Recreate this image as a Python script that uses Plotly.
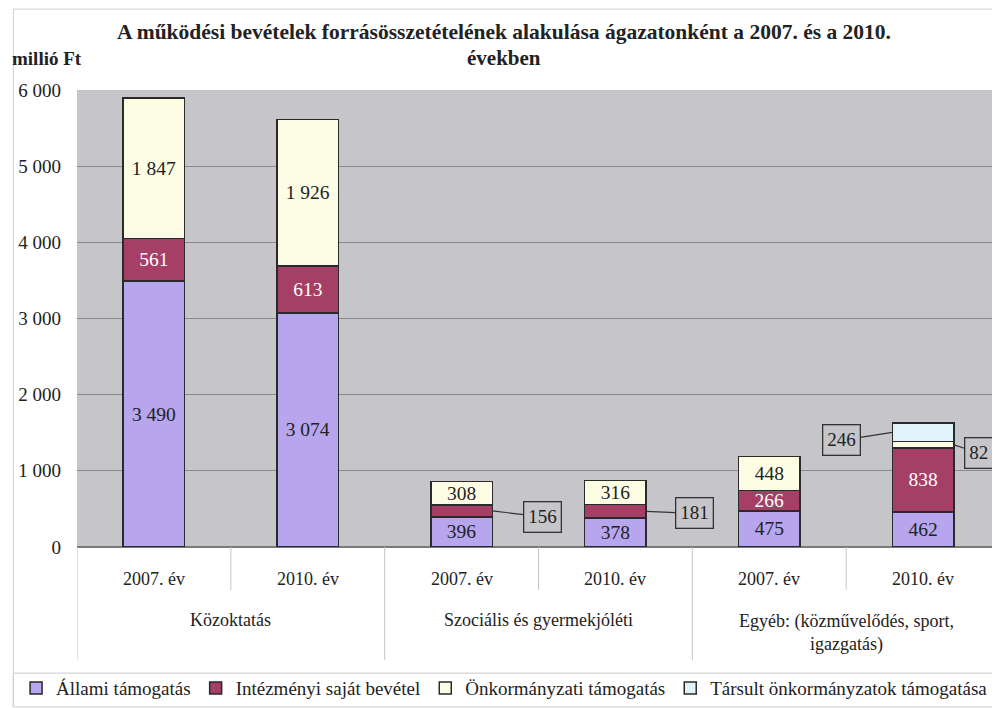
import plotly.graph_objects as go

groups = ["Közoktatás", "Szociális és gyermekjóléti", "Egyéb: (közművelődés, sport,<br>igazgatás)"]
years = ["2007. év", "2010. év"]
series_names = ["Állami támogatás", "Intézményi saját bevétel", "Önkormányzati támogatás",
                "Társult önkormányzatok támogatása"]
allami = [3490, 3074, 396, 378, 475, 462]
intezmenyi = [561, 613, 156, 181, 266, 838]
onkormanyzati = [1847, 1926, 308, 316, 448, 82]
tarsult = [0, 0, 0, 0, 0, 246]
values = [allami, intezmenyi, onkormanyzati, tarsult]
colors = ["#b7a5ee", "#a63f66", "#fdfde4", "#e0f3fb"]
text_colors = ["#222222", "#ffffff", "#222222", "#222222"]
yticks = [0, 1000, 2000, 3000, 4000, 5000, 6000]

# segments labelled with callouts instead of inside text: (series, bar index) -> (ax, ay) px offset
callouts = {(1, 2): (50, 6), (1, 3): (48, 2), (3, 5): (-51, 8), (2, 5): (25, 8)}

def fmt(v):
    return f"{v:,}".replace(",", " ")

xs = list(range(len(allami)))
FONT = "Liberation Serif"

fig = go.Figure()
for s, (name, vals, col, tc) in enumerate(zip(series_names, values, colors, text_colors)):
    txt = ["" if (s, i) in callouts or v == 0 else fmt(v) for i, v in enumerate(vals)]
    fig.add_trace(go.Bar(
        x=xs, y=vals, name=name, width=0.4,
        marker=dict(color=col, line=dict(color="#2a2a2a", width=1.5)),
        text=txt, textposition="inside", insidetextanchor="middle",
        textfont=dict(family=FONT, size=19.5, color=tc), textangle=0,
        constraintext="none", hoverinfo="skip",
    ))

# callouts
for (s, i), (ax, ay) in callouts.items():
    base = sum(values[k][i] for k in range(s))
    v = values[s][i]
    xt = i + (0.2 if ax > 0 else -0.2)
    fig.add_annotation(x=xt, y=base + v / 2, xref="x", yref="y", text=fmt(v),
                       showarrow=True, arrowhead=0, arrowwidth=1.2, arrowcolor="#333",
                       ax=ax, ay=ay, bordercolor="#333", borderwidth=1.3, borderpad=4,
                       bgcolor="rgba(0,0,0,0)", font=dict(family=FONT, size=19, color="#222"))

# category labels
for i in xs:
    fig.add_annotation(x=i, y=-0.070, xref="x", yref="paper", text=years[i % 2],
                       showarrow=False, yanchor="middle",
                       font=dict(family=FONT, size=18, color="#222"))
for g, name in enumerate(groups):
    multi = "<br>" in name
    fig.add_annotation(x=2 * g + 0.5, y=-0.160 if not multi else -0.188, xref="x", yref="paper",
                       text=name, showarrow=False, yanchor="middle",
                       font=dict(family=FONT, size=18, color="#222"))

shapes = []
for k in range(6):
    xpos = k - 0.5
    y1 = -0.247 if k % 2 == 0 else -0.094
    shapes.append(dict(type="line", xref="x", yref="paper", x0=xpos, x1=xpos, y0=0, y1=y1,
                       line=dict(color="#c4c4c4", width=1)))
# legend box and outer border
shapes.append(dict(type="rect", xref="paper", yref="paper", x0=-0.069, x1=1.0,
                   y0=-0.350, y1=-0.276, line=dict(color="#c8c8c8", width=1)))
shapes.append(dict(type="line", xref="paper", yref="paper", x0=-0.069, x1=-0.069,
                   y0=-0.350, y1=1.177, line=dict(color="#d0d0d0", width=1)))
shapes.append(dict(type="line", xref="paper", yref="paper", x0=-0.069, x1=1.0,
                   y0=1.177, y1=1.177, line=dict(color="#d0d0d0", width=1)))

fig.update_layout(
    width=992, height=700,
    margin=dict(l=69, r=0, t=82, b=161, autoexpand=False),
    barmode="stack",
    paper_bgcolor="#ffffff", plot_bgcolor="#c6c5c9",
    font=dict(family=FONT, size=17, color="#222"),
    showlegend=True,
    legend=dict(orientation="h", x=-0.066, y=-0.309, xanchor="left", yanchor="middle",
                font=dict(family=FONT, size=19, color="#222"), itemwidth=30,
                traceorder="normal", bgcolor="rgba(0,0,0,0)", tracegroupgap=0),
    shapes=shapes,
)
fig.add_annotation(x=0.463, y=1.127, xref="paper", yref="paper", showarrow=False, yanchor="middle",
                   text="<b>A működési bevételek forrásösszetételének alakulása ágazatonként a 2007. és a 2010.</b>",
                   font=dict(family=FONT, size=21.5, color="#222"))
fig.add_annotation(x=0.463, y=1.070, xref="paper", yref="paper", showarrow=False, yanchor="middle",
                   text="<b>években</b>", font=dict(family=FONT, size=21, color="#222"))
fig.add_annotation(x=-0.073, y=1.070, xref="paper", yref="paper", showarrow=False, xanchor="left",
                   yanchor="middle",
                   text="<b>millió Ft</b>", font=dict(family=FONT, size=19, color="#222"))

fig.update_xaxes(range=[-0.5, 5.5], showticklabels=False, showgrid=False, zeroline=False,
                 showline=False, fixedrange=True)
fig.update_yaxes(range=[0, 6000], tickvals=yticks, ticktext=[fmt(v) for v in yticks],
                 showgrid=True, gridcolor="#8a8a8a", gridwidth=1, zeroline=True,
                 zerolinecolor="#7a7a7a", ticks="", ticklabelstandoff=15,
                 tickfont=dict(family=FONT, size=19, color="#222"))

fig.write_html("out.html")
